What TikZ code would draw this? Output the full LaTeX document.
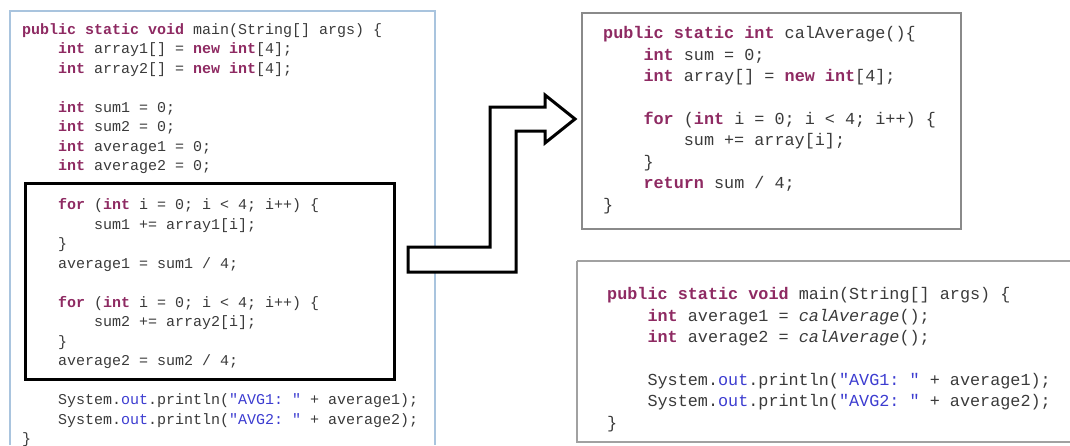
\documentclass[tikz,border=0pt]{standalone}
\usepackage{fontspec}
\setmonofont{Liberation Mono}
\usepackage{tikz}

\definecolor{kwcol}{HTML}{8E2A62}
\definecolor{strcol}{HTML}{3C3CD0}
\definecolor{txtcol}{HTML}{3A3A3A}
\definecolor{panelblue}{HTML}{A9C4DE}
\definecolor{boxgray}{HTML}{8A8A8A}

\newcommand{\jkw}[1]{\textbf{\color{kwcol}#1}}
\newcommand{\jstr}[1]{{\color{strcol}#1}}
\newcommand{\jind}{\hspace*{2.4em}}

\begin{document}
\begin{tikzpicture}[x=1pt, y=-1pt,
    lcode/.style={font=\ttfamily\fontsize{15}{19.5}\selectfont, align=left,
      anchor=base west, inner sep=0pt, text=txtcol},
    rcode/.style={lcode, font=\ttfamily\fontsize{16.8}{21.4}\selectfont}]
  \useasboundingbox (0,0) rectangle (1070,445);

  \draw[panelblue, line width=1.2] (10,445) -- (10,11) -- (435,11) -- (435,445);
  \draw[line width=3] (25,183) rectangle (394,379);
  \draw[boxgray, line width=1.3] (582,13) rectangle (961,229);
  \draw[boxgray!80, line width=1.3] (1070,442) -- (577,442) -- (577,261);
  \draw[boxgray!80, line width=2.5] (577,261) -- (1070,261);

  \node[lcode] (mainold) at (22,443.5) {%
    \jkw{public} \jkw{static} \jkw{void} main(String[] args) \{\\
    \jind\jkw{int} array1[] = \jkw{new} \jkw{int}[4];\\
    \jind\jkw{int} array2[] = \jkw{new} \jkw{int}[4];\\
    \mbox{}\\
    \jind\jkw{int} sum1 = 0;\\
    \jind\jkw{int} sum2 = 0;\\
    \jind\jkw{int} average1 = 0;\\
    \jind\jkw{int} average2 = 0;\\
    \mbox{}\\
    \jind\jkw{for} (\jkw{int} i = 0; i < 4; i++) \{\\
    \jind\jind sum1 += array1[i];\\
    \jind\}\\
    \jind average1 = sum1 / 4;\\
    \mbox{}\\
    \jind\jkw{for} (\jkw{int} i = 0; i < 4; i++) \{\\
    \jind\jind sum2 += array2[i];\\
    \jind\}\\
    \jind average2 = sum2 / 4;\\
    \mbox{}\\
    \jind System.\jstr{out}.println(\jstr{"AVG1: "} + average1);\\
    \jind System.\jstr{out}.println(\jstr{"AVG2: "} + average2);\\
    \}};

  \node[rcode] (calavg) at (603,210) {%
    \jkw{public} \jkw{static} \jkw{int} calAverage()\{\\
    \jind\jkw{int} sum = 0;\\
    \jind\jkw{int} array[] = \jkw{new} \jkw{int}[4];\\
    \mbox{}\\
    \jind\jkw{for} (\jkw{int} i = 0; i < 4; i++) \{\\
    \jind\jind sum += array[i];\\
    \jind\}\\
    \jind\jkw{return} sum / 4;\\
    \}};

  \node[rcode] (mainnew) at (607,428) {%
    \jkw{public} \jkw{static} \jkw{void} main(String[] args) \{\\
    \jind\jkw{int} average1 = \textit{calAverage}();\\
    \jind\jkw{int} average2 = \textit{calAverage}();\\
    \mbox{}\\
    \jind System.\jstr{out}.println(\jstr{"AVG1: "} + average1);\\
    \jind System.\jstr{out}.println(\jstr{"AVG2: "} + average2);\\
    \}};

  \draw[line width=3, fill=white, line join=miter]
    (408,247) -- (490,247) -- (490,107) -- (545,107) -- (545,95)
    -- (575,119) -- (545,143) -- (545,131) -- (516,131) -- (516,272)
    -- (408,272) -- cycle;
\end{tikzpicture}
\end{document}
